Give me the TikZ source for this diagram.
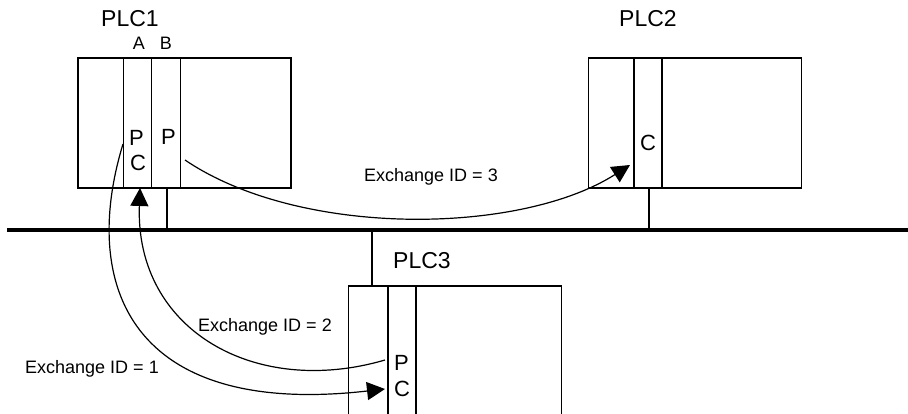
\documentclass[tikz,border=0pt]{standalone}
\usepackage{fontspec}
\setmainfont{Liberation Sans}
\usetikzlibrary{arrows.meta, positioning}

\begin{document}
\begin{tikzpicture}[
  x=1pt, y=-1pt,
  plcbox/.style={rectangle, draw, line width=1.3pt, minimum width=213pt, minimum height=130pt, inner sep=0pt},
  plcname/.style={font=\fontsize{23}{27}\selectfont, anchor=base, inner sep=0pt},
  slotname/.style={font=\fontsize{18}{21}\selectfont, anchor=base, inner sep=0pt},
  role/.style={font=\fontsize{22}{26}\selectfont, anchor=base west, inner sep=0pt},
  xlbl/.style={font=\fontsize{18}{22}\selectfont, anchor=base, inner sep=0pt},
  slot/.style={line width=1.3pt},
  bus/.style={line width=4pt},
  xfer/.style={-{Triangle[length=18pt, width=18pt]}, line width=1.2pt}
]
  \useasboundingbox (0,0) rectangle (908,414);
  \clip (0,0) rectangle (908,414);

  % the three PLCs
  \node[plcbox] (plc1) at (184.5,123) {};
  \node[plcbox] (plc2) at (695,123) {};
  \node[plcbox, minimum height=150pt] (plc3) at (455,361) {};

  % slot dividers
  \foreach \dx in {46,74,103}
    \draw[slot] ([xshift=\dx pt]plc1.north west) -- ([xshift=\dx pt]plc1.south west);
  \foreach \dx in {46,74}
    \draw[slot] ([xshift=\dx pt]plc2.north west) -- ([xshift=\dx pt]plc2.south west);
  \foreach \dx in {40,68}
    \draw[slot] ([xshift=\dx pt]plc3.north west) -- ([xshift=\dx pt]plc3.south west);

  % network
  \coordinate (busL) at (7,230);
  \coordinate (busR) at (908,230);
  \draw[bus] (busL) -- (busR);
  \coordinate (tap1) at (167,230);
  \coordinate (tap2) at (649,230);
  \coordinate (tap3) at (372,230);
  \draw[slot] (plc1.south -| tap1) -- (tap1);
  \draw[slot] (plc2.south -| tap2) -- (tap2);
  \draw[slot] (tap3) -- (plc3.north -| tap3);

  % names
  \node[plcname] (plc1lbl) at (130,27) {PLC1};
  \node[plcname] (plc2lbl) at (648,27) {PLC2};
  \node[plcname] (plc3lbl) at (422,269) {PLC3};
  \node[slotname] (slotA) at (139,50) {A};
  \node[slotname] (slotB) at (166,50) {B};

  % producer / consumer marks
  \node[role] (p1a) at (129,146) {P};
  \node[role] (c1a) at (130,171) {C};
  \node[role] (p1b) at (161,145) {P};
  \node[role] (c2) at (640,151) {C};
  \node[role] (p3) at (394,370) {P};
  \node[role] (c3) at (394,396) {C};

  % exchanges
  \coordinate (src1) at (123,144);
  \coordinate (dst1) at (385,389);
  \coordinate (src2) at (385,360);
  \coordinate (dst2) at (140,188);
  \coordinate (src3) at (185,160);
  \coordinate (dst3) at (630,165);
  \draw[xfer] (src3) .. controls (300,238) and (520,235) .. (dst3);
  \draw[xfer] (src2) .. controls (255,398) and (135,330) .. (dst2);
  \draw[xfer] (src1) .. controls (80,285) and (130,418) .. (dst1);

  \node[xlbl] (x3) at (431,182) {Exchange ID = 3};
  \node[xlbl] (x2) at (265,331) {Exchange ID = 2};
  \node[xlbl] (x1) at (92,373) {Exchange ID = 1};
\end{tikzpicture}
\end{document}
